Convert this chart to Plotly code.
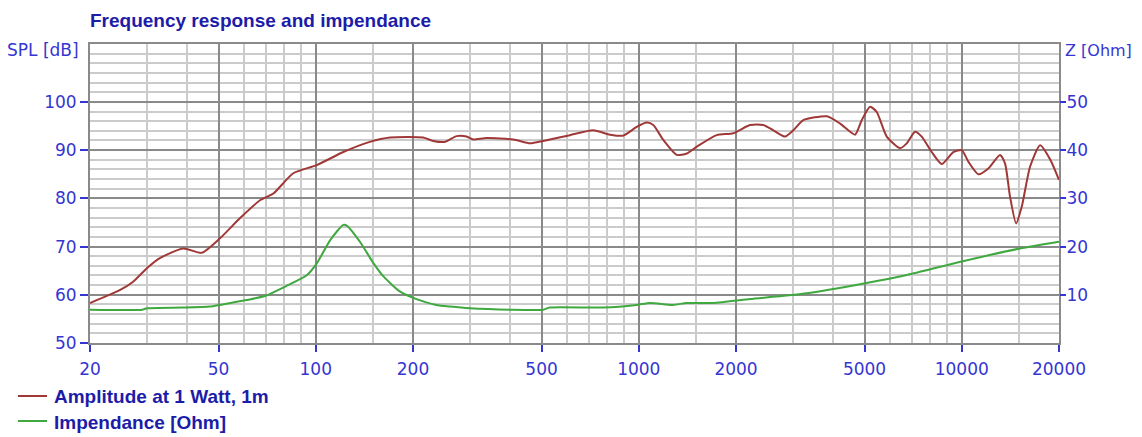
import plotly.graph_objects as go

# ---------------- data ----------------
spl_freq = [20, 24.8, 27.2, 30, 32.9, 38.9, 44.4, 50.5, 58.3, 67.2, 73.9, 85.2, 100.7, 121.7,
            147, 170, 215, 231, 251, 273, 293, 307, 338, 409, 461, 506, 612, 723, 815, 896,
            985, 1058, 1109, 1191, 1311, 1408, 1512, 1743, 1962, 2210, 2430, 2610, 2837, 3010,
            3232, 3818, 4200, 4672, 4900, 5200, 5455, 5858, 6442, 6754, 7167, 7516, 8072, 8670,
            9417, 9998, 10482, 11256, 12088, 13140, 13617, 14110, 14730, 15340, 16277, 17480,
            18800, 20000]
spl_db = [58.3, 61.0, 62.7, 65.5, 67.6, 69.6, 68.7, 71.7, 75.9, 79.6, 81.0, 85.2, 86.9, 89.6,
          91.7, 92.6, 92.6, 91.9, 91.7, 92.9, 92.8, 92.2, 92.5, 92.2, 91.4, 91.9, 93.1, 94.1,
          93.2, 93.0, 94.8, 95.7, 95.2, 92.1, 89.0, 89.3, 90.7, 93.1, 93.5, 95.2, 95.2, 94.1,
          92.8, 94.1, 96.2, 97.0, 95.5, 93.2, 96.2, 99.0, 97.9, 92.8, 90.4, 91.4, 93.8, 92.8,
          89.6, 87.1, 89.6, 90.0, 87.6, 85.0, 86.2, 89.0, 87.2, 80.3, 74.8, 78.3, 86.6, 91.0,
          88.0, 83.8]

z_freq = [20, 29, 30, 38.9, 47, 50.5, 61, 70, 81, 94, 100.7, 111, 121.7, 125, 137, 151, 162,
          182, 205, 236, 261, 300, 399, 506, 530, 778, 985, 1085, 1275, 1408, 1700, 2210,
          3310, 5023, 6754, 9998, 15150, 20000]
z_ohm = [6.9, 6.9, 7.2, 7.35, 7.55, 7.9, 8.9, 9.8, 11.8, 14.1, 16.5, 21.4, 24.5, 24.3, 21.0,
         16.5, 13.8, 10.7, 9.1, 7.9, 7.55, 7.2, 6.9, 6.9, 7.35, 7.35, 7.9, 8.3, 7.9, 8.3, 8.3,
         9.1, 10.3, 12.4, 14.1, 16.9, 19.6, 21.0]

x_ticks = [20, 50, 100, 200, 500, 1000, 2000, 5000, 10000, 20000]
x_minor = [30, 40, 60, 70, 80, 90, 150, 300, 400, 600, 700, 800, 900, 1500,
           3000, 4000, 6000, 7000, 8000, 9000, 15000]
spl_ticks = [50, 60, 70, 80, 90, 100]
z_ticks = [10, 20, 30, 40, 50]

series_names = ["Amplitude at 1 Watt, 1m", "Impendance [Ohm]"]
series_colors = ["#a03838", "#3fa83f"]

# ---------------- style ----------------
BLUE = "#3535d2"
DARK_BLUE = "#1c1ca8"
DARK_GRID = "#8a8a8a"
LIGHT_GRID = "#cbcbcb"
TICK_FONT = dict(family="DejaVu Sans", size=17, color=BLUE)

# page body has an 8px margin: figure sized/margined to place plot area correctly
W, H = 1134, 429
ML, MR, MT, MB = 82, 83, 36, 94
PW, PH = W - ML - MR, H - MT - MB


def px(xf):
    return (xf - ML) / PW


def py(yf):
    return (MT + PH - yf) / PH


fig = go.Figure()
fig.add_trace(go.Scatter(x=spl_freq, y=spl_db, mode="lines", name=series_names[0],
                         line=dict(color=series_colors[0], width=2, shape="spline", smoothing=0.6)))
fig.add_trace(go.Scatter(x=z_freq, y=z_ohm, mode="lines", name=series_names[1], yaxis="y2",
                         line=dict(color=series_colors[1], width=2, shape="spline", smoothing=0.6)))

fig.update_layout(
    width=W, height=H,
    margin=dict(l=ML, r=MR, t=MT, b=MB),
    paper_bgcolor="white", plot_bgcolor="white",
    showlegend=False,
    xaxis=dict(type="log", range=[1.30103, 4.30103], tickvals=x_ticks,
               ticktext=[str(v) for v in x_ticks], tickfont=TICK_FONT,
               ticks="outside", ticklen=7, tickcolor=BLUE, tickwidth=2,
               ticklabelstandoff=3,
               showgrid=True, gridcolor=DARK_GRID, gridwidth=1.5,
               minor=dict(tickmode="array", tickvals=x_minor, showgrid=True,
                          gridcolor=LIGHT_GRID, gridwidth=1.5, ticks=""),
               showline=True, linecolor=DARK_GRID, linewidth=2, mirror=True,
               zeroline=False),
    yaxis=dict(range=[50, 112], tickvals=spl_ticks, tickfont=TICK_FONT,
               ticks="outside", ticklen=8, tickcolor=BLUE, tickwidth=2,
               showgrid=True, gridcolor=DARK_GRID, gridwidth=1.5,
               minor=dict(dtick=2, tick0=50, showgrid=True, gridcolor=LIGHT_GRID,
                          gridwidth=1.5, ticks=""),
               showline=True, linecolor=DARK_GRID, linewidth=2, mirror=True,
               zeroline=False),
    yaxis2=dict(range=[0, 62], overlaying="y", side="right", tickvals=z_ticks,
                tickfont=TICK_FONT, ticks="outside", ticklen=6, tickcolor=BLUE, tickwidth=2,
                ticklabelstandoff=-3,
                showgrid=False, zeroline=False, showline=False),
)

# 110 dB major gridline (no tick there)
fig.add_shape(type="line", xref="paper", x0=0, x1=1, yref="y", y0=110, y1=110,
              line=dict(color=DARK_GRID, width=1.5), layer="below")

fig.add_annotation(text="<b>Frequency response and impendance</b>", xref="paper", yref="paper",
                   x=px(80), y=py(12), xanchor="left", yanchor="middle", showarrow=False,
                   font=dict(family="Liberation Sans", size=19, color=DARK_BLUE))
fig.add_annotation(text="SPL [dB]", xref="paper", yref="paper", x=px(73), y=py(42),
                   xanchor="right", yanchor="middle", showarrow=False, font=TICK_FONT)
fig.add_annotation(text="Z [Ohm]", xref="paper", yref="paper", x=px(1055), y=py(42),
                   xanchor="left", yanchor="middle", showarrow=False,
                   font=dict(family="DejaVu Sans", size=16, color=BLUE))

# legend (bottom-left): sample line + bold label
for i, (name, col) in enumerate(zip(series_names, series_colors)):
    ly = 388 + 25 * i
    fig.add_shape(type="line", xref="paper", yref="paper", x0=px(10), x1=px(39),
                  y0=py(ly), y1=py(ly), line=dict(color=col, width=2))
    fig.add_annotation(text="<b>" + name + "</b>", xref="paper", yref="paper",
                       x=px(44), y=py(ly + 1), xanchor="left", yanchor="middle",
                       showarrow=False,
                       font=dict(family="Liberation Sans", size=19, color=DARK_BLUE))

fig.write_html("out.html")
